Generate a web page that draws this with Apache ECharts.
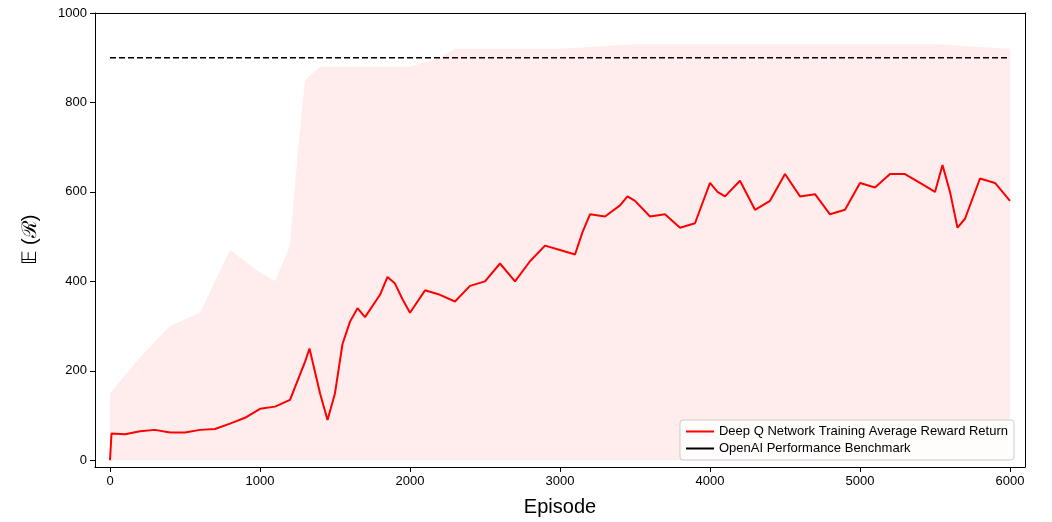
<!DOCTYPE html>
<html>
<head>
<meta charset="UTF-8">
<script src="https://cdn.jsdelivr.net/npm/echarts@6/dist/echarts.min.js"></script>
<style>body{margin:0;background:#fff}#c{width:1052px;height:522px}</style>
</head>
<body>
<div id="c"></div>
<script>
// smoothed average reward
const avgEpisodes = [0,10,100,200,300,400,500,600,700,800,900,1000,1100,1200,1300,1330,1400,1450,1500,1550,1600,1650,1700,1800,1850,1900,1950,2000,2100,2200,2300,2400,2500,2600,2700,2800,2900,3000,3100,3150,3200,3300,3400,3450,3500,3600,3700,3800,3900,4000,4050,4100,4200,4300,4400,4500,4600,4700,4800,4900,5000,5100,5200,5300,5400,5500,5550,5600,5650,5700,5800,5900,6000];
const avgReward = [0,60,58,65,68,62,62,68,70,82,95,115,120,135,220,250,150,90,150,260,310,340,320,370,410,395,360,330,380,370,355,390,400,440,400,445,480,470,460,510,550,545,570,590,580,545,550,520,530,620,600,590,625,560,580,640,590,595,550,560,620,610,640,640,620,600,660,600,520,540,630,620,580];
// rough upper envelope of the raw episode rewards
const rawEpisodes = [0,200,400,600,800,1000,1100,1200,1250,1300,1400,1500,1700,2000,2200,2300,2500,3000,3500,4000,4500,5000,5500,6000];
const rawUpper = [150,230,300,330,470,420,400,480,680,850,880,880,880,880,900,920,920,920,930,930,930,930,930,920];
const benchmark = 900;
const xTicks = [0,1000,2000,3000,4000,5000,6000];
const yTicks = [0,200,400,600,800,1000];

const frameAxis = {axisLine: {show: true, onZero: false, lineStyle: {color: '#000'}}, axisTick: {show: false}, axisLabel: {show: false}, splitLine: {show: false}};

const chart = echarts.init(document.getElementById('c'));
chart.setOption({
  animation: false,
  grid: {left: 95, right: 27, top: 13, bottom: 55},
  xAxis: [{
    type: 'value', min: -100, max: 6100,
    name: 'Episode', nameLocation: 'middle', nameGap: 30,
    nameTextStyle: {fontSize: 20, color: '#000'},
    axisLine: {onZero: false, lineStyle: {color: '#000'}},
    axisTick: {show: true, customValues: xTicks, lineStyle: {color: '#000'}},
    axisLabel: {color: '#000', fontSize: 13, customValues: xTicks, formatter: v => String(v)},
    splitLine: {show: false}
  }, Object.assign({type: 'value', position: 'top', min: -100, max: 6100}, frameAxis)],
  yAxis: [{
    type: 'value', min: -15, max: 1000,
    name: '𝔼 (ℛ)', nameLocation: 'middle', nameGap: 55,
    nameTextStyle: {fontSize: 20, color: '#000'},
    axisLine: {show: true, onZero: false, lineStyle: {color: '#000'}},
    axisTick: {show: true, customValues: yTicks, lineStyle: {color: '#000'}},
    axisLabel: {color: '#000', fontSize: 13, customValues: yTicks, formatter: v => String(v)},
    splitLine: {show: false}
  }, Object.assign({type: 'value', position: 'right', min: -15, max: 1000}, frameAxis)],
  legend: {
    right: 38, bottom: 62, orient: 'vertical', itemGap: 4,
    backgroundColor: 'rgba(255,255,255,0.85)', borderColor: '#ccc', borderWidth: 1, borderRadius: 3,
    padding: [5, 6], textStyle: {fontSize: 13, color: '#000'},
    itemWidth: 28, itemHeight: 2,
    data: [
      {name: 'Deep Q Network Training Average Reward Return', icon: 'rect'},
      {name: 'OpenAI Performance Benchmark', icon: 'rect'}
    ]
  },
  series: [
    {
      name: 'raw', type: 'line', symbol: 'none', silent: true,
      data: rawEpisodes.map((e, i) => [e, rawUpper[i]]),
      lineStyle: {width: 0}, areaStyle: {color: 'rgba(255,170,175,0.32)', origin: 0}
    },
    {
      name: 'Deep Q Network Training Average Reward Return', type: 'line', symbol: 'none',
      data: avgEpisodes.map((e, i) => [e, avgReward[i]]),
      itemStyle: {color: '#ff0000'}, lineStyle: {color: '#ff0000', width: 2}
    },
    {
      name: 'OpenAI Performance Benchmark', type: 'line', symbol: 'none',
      data: [[0, benchmark], [6000, benchmark]],
      itemStyle: {color: '#000'}, lineStyle: {color: '#000', width: 1.6, type: [6, 3]}
    }
  ]
});
</script>
</body>
</html>
